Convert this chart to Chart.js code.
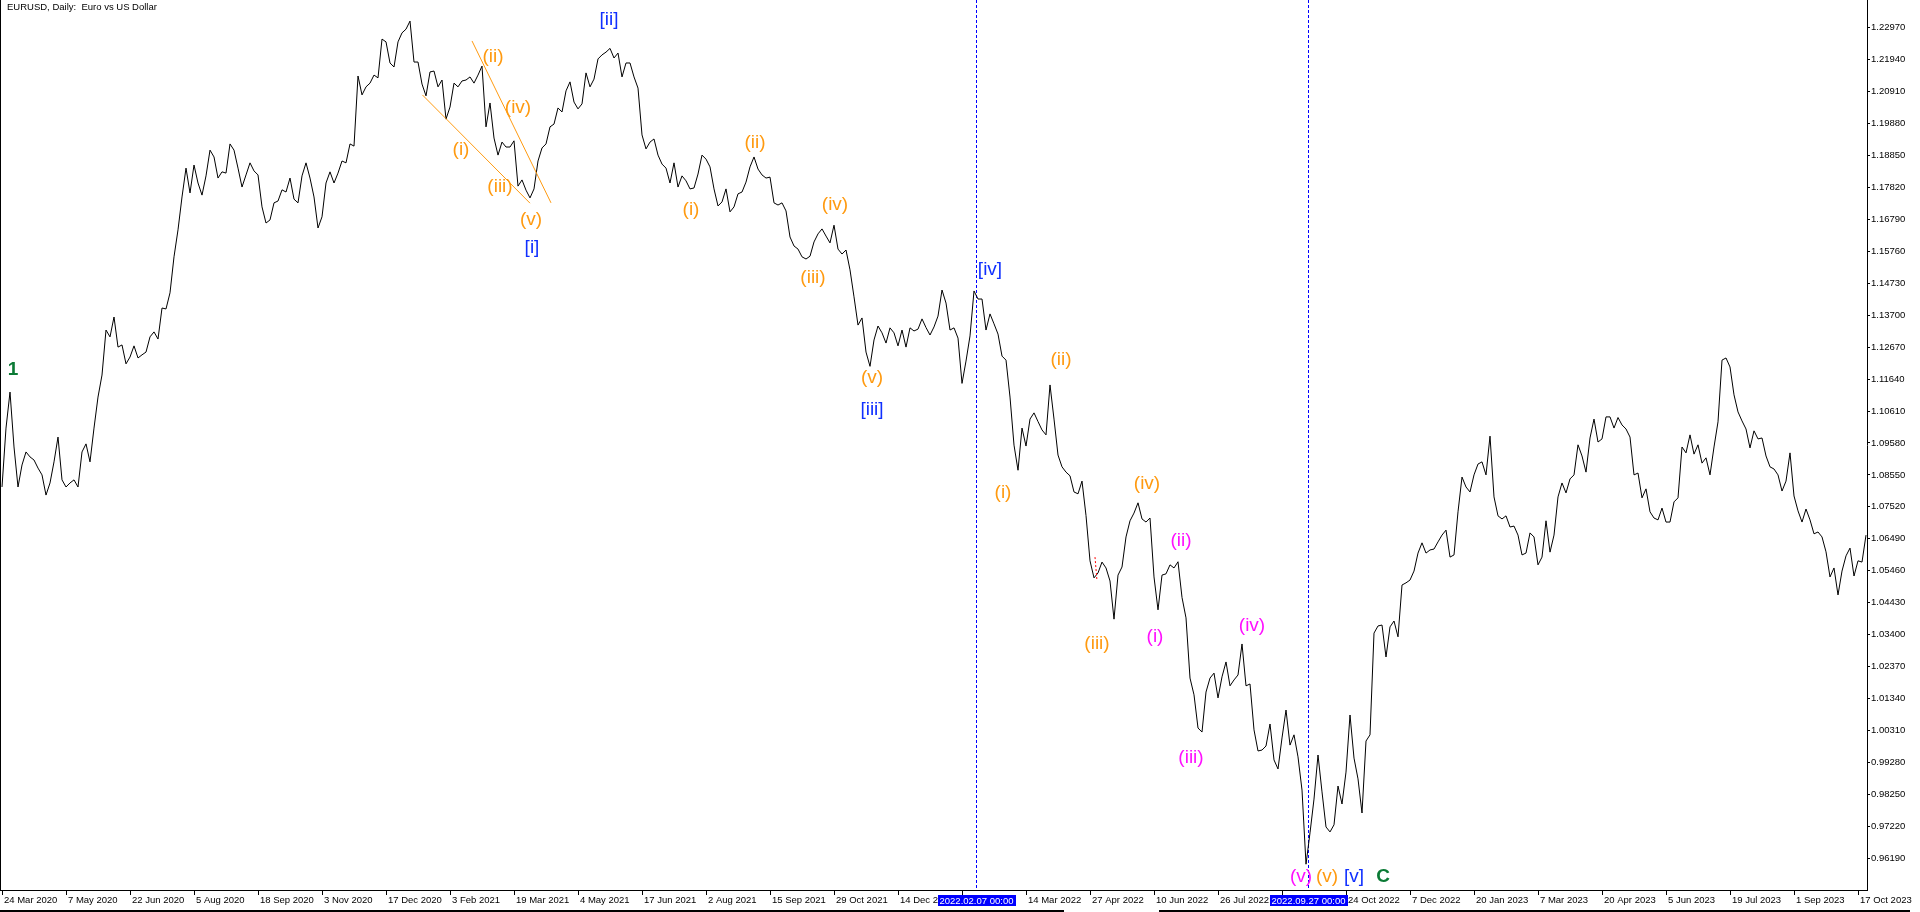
<!DOCTYPE html>
<html>
<head>
<meta charset="utf-8">
<title>EURUSD, Daily</title>
<script src="https://cdn.jsdelivr.net/npm/chart.js@4.4.1/dist/chart.umd.min.js"></script>
<style>
  html, body { margin: 0; padding: 0; background: #ffffff; overflow: hidden; }
  canvas { display: block; }
</style>
</head>
<body>
<canvas id="grafico" width="1920" height="912"></canvas>
<script>
// Fechamentos, um a cada 2 barras diárias (barra 0 = 24 Mar 2020)
const barStep = 2;
const closes = [
  1.0816, 1.1006, 1.1122, 1.0945, 1.0816, 1.0887, 1.0929, 1.0913, 1.0903, 1.0877,
  1.0855, 1.0790, 1.0829, 1.0897, 1.0977, 1.0839, 1.0816, 1.0829, 1.0839, 1.0816,
  1.0929, 1.0955, 1.0897, 1.1006, 1.1106, 1.1177, 1.1322, 1.1300, 1.1364, 1.1267,
  1.1274, 1.1213, 1.1235, 1.1271, 1.1232, 1.1242, 1.1251, 1.1300, 1.1316, 1.1293,
  1.1393, 1.1390, 1.1442, 1.1558, 1.1645, 1.1751, 1.1844, 1.1764, 1.1854, 1.1796,
  1.1757, 1.1819, 1.1902, 1.1880, 1.1812, 1.1832, 1.1828, 1.1922, 1.1902, 1.1844,
  1.1783, 1.1822, 1.1861, 1.1835, 1.1822, 1.1719, 1.1667, 1.1677, 1.1732, 1.1738,
  1.1774, 1.1767, 1.1812, 1.1744, 1.1732, 1.1819, 1.1861, 1.1812, 1.1751, 1.1651,
  1.1687, 1.1796, 1.1832, 1.1796, 1.1828, 1.1867, 1.1861, 1.1922, 1.1915, 1.2141,
  1.2080, 1.2106, 1.2118, 1.2144, 1.2135, 1.2260, 1.2251, 1.2183, 1.2170, 1.2251,
  1.2280, 1.2292, 1.2318, 1.2186, 1.2186, 1.2115, 1.2077, 1.2154, 1.2157, 1.2106,
  1.2128, 1.2002, 1.2041, 1.2118, 1.2106, 1.2125, 1.2128, 1.2138, 1.2118, 1.2144,
  1.2173, 1.1977, 1.2054, 1.1941, 1.1886, 1.1928, 1.1912, 1.1912, 1.1932, 1.1786,
  1.1806, 1.1773, 1.1748, 1.1777, 1.1867, 1.1909, 1.1922, 1.1977, 1.1986, 1.2038,
  1.2025, 1.2093, 1.2122, 1.2057, 1.2035, 1.2051, 1.2151, 1.2106, 1.2131, 1.2196,
  1.2209, 1.2218, 1.2230, 1.2199, 1.2215, 1.2138, 1.2183, 1.2183, 1.2138, 1.2102,
  1.1951, 1.1906, 1.1928, 1.1938, 1.1886, 1.1857, 1.1844, 1.1796, 1.1861, 1.1783,
  1.1819, 1.1803, 1.1777, 1.1780, 1.1825, 1.1886, 1.1873, 1.1848, 1.1777, 1.1722,
  1.1735, 1.1777, 1.1703, 1.1719, 1.1761, 1.1767, 1.1799, 1.1848, 1.1880, 1.1841,
  1.1822, 1.1812, 1.1815, 1.1732, 1.1725, 1.1732, 1.1706, 1.1622, 1.1593, 1.1583,
  1.1558, 1.1551, 1.1560, 1.1606, 1.1632, 1.1648, 1.1625, 1.1603, 1.1660, 1.1583,
  1.1567, 1.1580, 1.1516, 1.1429, 1.1338, 1.1361, 1.1251, 1.1205, 1.1290, 1.1335,
  1.1313, 1.1280, 1.1329, 1.1313, 1.1271, 1.1322, 1.1267, 1.1329, 1.1319, 1.1325,
  1.1358, 1.1330, 1.1306, 1.1332, 1.1367, 1.1451, 1.1409, 1.1322, 1.1329, 1.1296,
  1.1150, 1.1222, 1.1303, 1.1448, 1.1422, 1.1422, 1.1322, 1.1374, 1.1342, 1.1309,
  1.1238, 1.1225, 1.1106, 1.0951, 1.0870, 1.1006, 1.0948, 1.1035, 1.1055, 1.1027,
  1.1000, 1.0984, 1.1145, 1.1035, 1.0919, 1.0881, 1.0864, 1.0852, 1.0800, 1.0794,
  1.0835, 1.0724, 1.0578, 1.0523, 1.0539, 1.0574, 1.0555, 1.0513, 1.0390, 1.0532,
  1.0558, 1.0655, 1.0707, 1.0732, 1.0765, 1.0713, 1.0703, 1.0716, 1.0526, 1.0420,
  1.0532, 1.0536, 1.0565, 1.0555, 1.0575, 1.0460, 1.0394, 1.0200, 1.0146, 1.0039,
  1.0026, 1.0155, 1.0200, 1.0216, 1.0136, 1.0204, 1.0252, 1.0175, 1.0194, 1.0210,
  1.0310, 1.0175, 1.0181, 1.0033, 0.9965, 0.9968, 0.9981, 1.0052, 0.9936, 0.9907,
  1.0007, 1.0097, 0.9984, 1.0017, 0.9946, 0.9839, 0.9600, 0.9701, 0.9810, 0.9952,
  0.9833, 0.9720, 0.9704, 0.9727, 0.9852, 0.9794, 0.9897, 1.0081, 0.9942, 0.9875,
  0.9765, 0.9997, 1.0017, 1.0345, 1.0368, 1.0371, 1.0268, 1.0365, 1.0384, 1.0333,
  1.0500, 1.0507, 1.0516, 1.0545, 1.0603, 1.0636, 1.0603, 1.0613, 1.0616, 1.0639,
  1.0661, 1.0677, 1.0590, 1.0597, 1.0736, 1.0848, 1.0816, 1.0800, 1.0855, 1.0890,
  1.0897, 1.0855, 1.0980, 1.0784, 1.0723, 1.0713, 1.0723, 1.0687, 1.0690, 1.0661,
  1.0597, 1.0603, 1.0668, 1.0655, 1.0565, 1.0590, 1.0707, 1.0606, 1.0661, 1.0784,
  1.0829, 1.0797, 1.0842, 1.0855, 1.0952, 1.0916, 1.0864, 1.0974, 1.1035, 1.0961,
  1.0971, 1.1042, 1.1042, 1.1006, 1.1040, 1.1016, 1.1003, 1.0977, 1.0855, 1.0861,
  1.0781, 1.0810, 1.0736, 1.0716, 1.0710, 1.0748, 1.0703, 1.0703, 1.0768, 1.0781,
  1.0945, 1.0926, 1.0984, 1.0922, 1.0952, 1.0893, 1.0910, 1.0855, 1.0945, 1.1026,
  1.1225, 1.1232, 1.1203, 1.1113, 1.1058, 1.1029, 1.1003, 1.0942, 1.0997, 1.0971,
  1.0974, 1.0916, 1.0881, 1.0874, 1.0855, 1.0803, 1.0835, 1.0926, 1.0787, 1.0739,
  1.0703, 1.0745, 1.0710, 1.0665, 1.0671, 1.0655, 1.0607, 1.0526, 1.0555, 1.0468,
  1.0545, 1.0594, 1.0619, 1.0529, 1.0578, 1.0574, 1.0661
];

// Rótulos de tempo: um a cada 32 barras
const tickSpacing = 32;
const tickLabels = [
  '24 Mar 2020', '7 May 2020', '22 Jun 2020', '5 Aug 2020', '18 Sep 2020', '3 Nov 2020',
  '17 Dec 2020', '3 Feb 2021', '19 Mar 2021', '4 May 2021', '17 Jun 2021', '2 Aug 2021',
  '15 Sep 2021', '29 Oct 2021', '14 Dec 2021', '31 Jan 2022', '14 Mar 2022', '27 Apr 2022',
  '10 Jun 2022', '26 Jul 2022', '9 Sep 2022', '24 Oct 2022', '7 Dec 2022', '20 Jan 2023',
  '7 Mar 2023', '20 Apr 2023', '5 Jun 2023', '19 Jul 2023', '1 Sep 2023', '17 Oct 2023'
];

// Escala de preços
const priceTicks = [
  1.22970, 1.21940, 1.20910, 1.19880, 1.18850, 1.17820, 1.16790, 1.15760, 1.14730,
  1.13700, 1.12670, 1.11640, 1.10610, 1.09580, 1.08550, 1.07520, 1.06490, 1.05460,
  1.04430, 1.03400, 1.02370, 1.01340, 1.00310, 0.99280, 0.98250, 0.97220, 0.96190
];
const priceMin = 0.95168;
const priceMax = 1.23860;
const barMin = -1;
const barMax = 932.5;

// Linhas verticais (barra) e seus rótulos
const markerBars = [487, 653];
const markerLabels = ['2022.02.07 00:00', '2022.09.27 00:00'];

// Contagem de ondas: texto, grau, barra e preço
const waveLabels = [
  { text: '1', degree: 'primary', bar: 5.5, price: 1.1193 },
  { text: '(i)', degree: 'minor', bar: 229.5, price: 1.1902 },
  { text: '(ii)', degree: 'minor', bar: 245.5, price: 1.2202 },
  { text: '(iii)', degree: 'minor', bar: 249, price: 1.1783 },
  { text: '(iv)', degree: 'minor', bar: 258, price: 1.2038 },
  { text: '(v)', degree: 'minor', bar: 264.5, price: 1.1677 },
  { text: '[i]', degree: 'intermediate', bar: 265, price: 1.1587 },
  { text: '[ii]', degree: 'intermediate', bar: 303.5, price: 1.2322 },
  { text: '(i)', degree: 'minor', bar: 344.5, price: 1.1709 },
  { text: '(ii)', degree: 'minor', bar: 376.5, price: 1.1925 },
  { text: '(iii)', degree: 'minor', bar: 405.5, price: 1.1490 },
  { text: '(iv)', degree: 'minor', bar: 416.5, price: 1.1725 },
  { text: '(v)', degree: 'minor', bar: 435, price: 1.1167 },
  { text: '[iii]', degree: 'intermediate', bar: 435, price: 1.1064 },
  { text: '[iv]', degree: 'intermediate', bar: 494, price: 1.1516 },
  { text: '(i)', degree: 'minor', bar: 500.5, price: 1.0797 },
  { text: '(ii)', degree: 'minor', bar: 529.5, price: 1.1225 },
  { text: '(iii)', degree: 'minor', bar: 547.5, price: 1.0310 },
  { text: '(iv)', degree: 'minor', bar: 572.5, price: 1.0826 },
  { text: '(i)', degree: 'minute', bar: 576.5, price: 1.0333 },
  { text: '(ii)', degree: 'minute', bar: 589.5, price: 1.0642 },
  { text: '(iii)', degree: 'minute', bar: 594.5, price: 0.9942 },
  { text: '(iv)', degree: 'minute', bar: 625, price: 1.0368 },
  { text: '(v)', degree: 'minute', bar: 649.5, price: 0.9559 },
  { text: '(v)', degree: 'minor', bar: 662.5, price: 0.9559 },
  { text: '[v]', degree: 'intermediate', bar: 676, price: 0.9559 },
  { text: 'C', degree: 'primary', bar: 690.5, price: 0.9559 }
];

// Linhas de tendência: [barra, preço] -> [barra, preço]
const trendLines = [
  { from: [210.2, 1.2080], to: [264, 1.1731], degree: 'minor' },
  { from: [235, 1.2254], to: [274.5, 1.1732], degree: 'minor' },
  { from: [546.5, 1.0590], to: [547.5, 1.0513], degree: 'mark' }
];

const degreeColors = {
  primary: '#0b7a35',
  intermediate: '#1030ff',
  minor: '#ff9a10',
  minute: '#ff10ff',
  mark: '#ff0000'
};

const fonte = '"Liberation Sans", Arial, sans-serif';
const markerBlue = '#0000ff';

Chart.defaults.font.family = fonte;
Chart.defaults.font.size = 9.5;
Chart.defaults.color = '#000000';

const labelByBar = {};
tickLabels.forEach((t, i) => { labelByBar[i * tickSpacing] = t; });

const points = closes.map((v, i) => ({ x: i * barStep, y: v }));

function zerarPadding(scale) {
  scale.paddingLeft = 0;
  scale.paddingRight = 0;
  scale.paddingTop = 0;
  scale.paddingBottom = 0;
}

const mt4Plugin = {
  id: 'mt4',
  beforeDatasetsDraw(chart) {
    const { ctx, chartArea, scales } = chart;
    // Linhas verticais tracejadas
    ctx.save();
    ctx.strokeStyle = markerBlue;
    ctx.lineWidth = 1;
    ctx.setLineDash([3, 2]);
    markerBars.forEach(bar => {
      const x = Math.round(scales.x.getPixelForValue(bar)) + 0.5;
      ctx.beginPath();
      ctx.moveTo(x, chartArea.top);
      ctx.lineTo(x, chartArea.bottom);
      ctx.stroke();
    });
    ctx.restore();
  },
  afterDatasetsDraw(chart) {
    const { ctx, chartArea, scales } = chart;
    ctx.save();

    // Linhas de tendência
    trendLines.forEach(l => {
      ctx.strokeStyle = degreeColors[l.degree];
      ctx.lineWidth = 1;
      ctx.setLineDash(l.degree === 'mark' ? [2, 2] : []);
      ctx.beginPath();
      ctx.moveTo(scales.x.getPixelForValue(l.from[0]), scales.y.getPixelForValue(l.from[1]));
      ctx.lineTo(scales.x.getPixelForValue(l.to[0]), scales.y.getPixelForValue(l.to[1]));
      ctx.stroke();
    });
    ctx.setLineDash([]);

    // Rótulos das ondas
    ctx.textAlign = 'center';
    ctx.textBaseline = 'middle';
    waveLabels.forEach(w => {
      ctx.fillStyle = degreeColors[w.degree];
      ctx.font = (w.degree === 'primary' ? 'bold 19px ' : '19px ') + fonte;
      ctx.fillText(w.text, scales.x.getPixelForValue(w.bar), scales.y.getPixelForValue(w.price));
    });

    // Borda esquerda
    ctx.strokeStyle = '#000000';
    ctx.lineWidth = 1;
    ctx.beginPath();
    ctx.moveTo(chartArea.left + 0.5, 0);
    ctx.lineTo(chartArea.left + 0.5, chartArea.bottom);
    ctx.stroke();
    ctx.restore();
  },
  afterDraw(chart) {
    const { ctx, chartArea, scales } = chart;
    ctx.save();

    // Caixas de data das linhas verticais
    ctx.font = '9.5px ' + fonte;
    ctx.textAlign = 'center';
    ctx.textBaseline = 'middle';
    markerBars.forEach((bar, i) => {
      const x = Math.round(scales.x.getPixelForValue(bar)) + 0.5;
      const w = Math.ceil(ctx.measureText(markerLabels[i]).width) + 4;
      ctx.fillStyle = markerBlue;
      ctx.fillRect(Math.round(x - w / 2), chartArea.bottom + 5, w, 11);
      ctx.fillStyle = '#ffffff';
      ctx.fillText(markerLabels[i], x, chartArea.bottom + 11);
    });

    // Título
    ctx.fillStyle = '#000000';
    ctx.textAlign = 'left';
    ctx.fillText('EURUSD, Daily:  Euro vs US Dollar', 7, 7);

    // Borda inferior da janela
    ctx.strokeStyle = '#000000';
    ctx.lineWidth = 2;
    ctx.beginPath();
    ctx.moveTo(0, 911);
    ctx.lineTo(1064, 911);
    ctx.moveTo(1159, 911);
    ctx.lineTo(1910, 911);
    ctx.stroke();
    ctx.restore();
  }
};

document.addEventListener('DOMContentLoaded', function() {
  const ctx = document.getElementById('grafico').getContext('2d');

  new Chart(ctx, {
    type: 'line',
    data: {
      datasets: [{
        label: 'EURUSD',
        data: points,
        borderColor: '#000000',
        borderWidth: 1,
        pointRadius: 0,
        tension: 0,
        fill: false
      }]
    },
    options: {
      responsive: false,
      animation: false,
      layout: { padding: 0 },
      plugins: {
        legend: { display: false },
        tooltip: { enabled: false }
      },
      scales: {
        x: {
          type: 'linear',
          bounds: 'data',
          min: barMin,
          max: barMax,
          afterBuildTicks: function(scale) {
            scale.ticks = tickLabels.map((t, i) => ({ value: i * tickSpacing }));
          },
          afterFit: function(scale) {
            scale.height = 22;
            zerarPadding(scale);
          },
          ticks: {
            autoSkip: false,
            maxRotation: 0,
            minRotation: 0,
            align: 'start',
            labelOffset: 2,
            padding: 0,
            color: '#000000',
            callback: function(value) {
              return labelByBar[value] || '';
            }
          },
          grid: {
            drawOnChartArea: false,
            drawTicks: true,
            tickLength: 5,
            color: '#000000'
          },
          border: { display: true, color: '#000000', width: 1 }
        },
        y: {
          type: 'linear',
          position: 'right',
          bounds: 'data',
          min: priceMin,
          max: priceMax,
          afterBuildTicks: function(scale) {
            scale.ticks = priceTicks.map(v => ({ value: v }));
          },
          afterFit: function(scale) {
            scale.width = 53;
            zerarPadding(scale);
          },
          ticks: {
            padding: 1,
            color: '#000000',
            callback: function(value) {
              return value.toFixed(5);
            }
          },
          grid: {
            drawOnChartArea: false,
            drawTicks: true,
            tickLength: 3,
            color: '#000000'
          },
          border: { display: true, color: '#000000', width: 1 }
        }
      }
    },
    plugins: [mt4Plugin]
  });
});
</script>
</body>
</html>
